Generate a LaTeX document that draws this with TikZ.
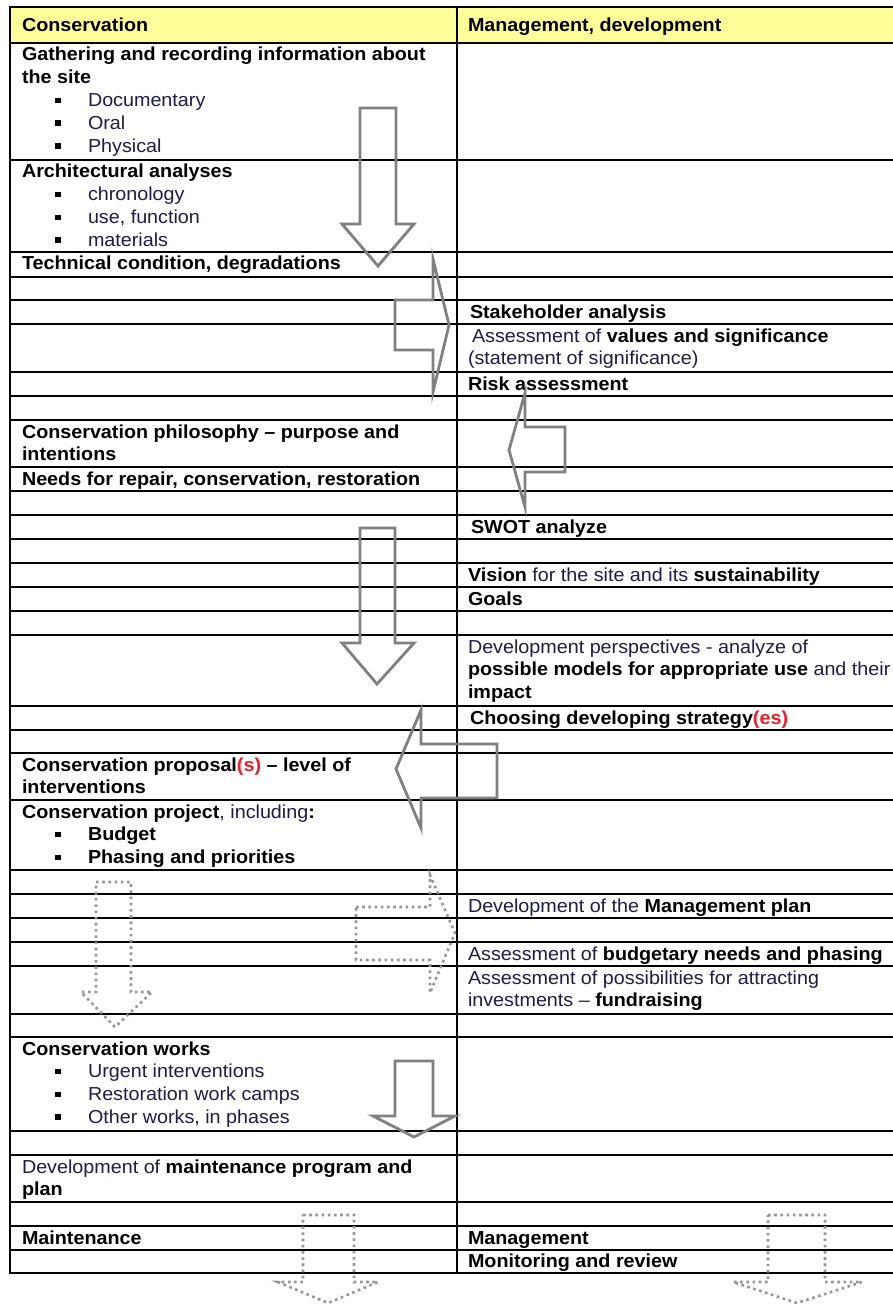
\documentclass[tikz,border=0pt]{standalone}
\usepackage{fontspec}
\setmainfont{Liberation Sans}[FakeStretch=1.05]
\definecolor{regc}{RGB}{30,28,72}
\definecolor{redc}{RGB}{232,32,40}
\definecolor{hdr}{RGB}{255,255,153}
\definecolor{arrc}{RGB}{128,128,128}
\definecolor{dotc}{RGB}{150,150,150}
\newcommand{\rgt}[1]{{\mdseries\color{regc}#1}}
\newcommand{\redt}[1]{{\color{redc}#1}}
\begin{document}
\begin{tikzpicture}[x=1pt,y=-1pt,
  txt/.style={anchor=base west, inner sep=0pt, outer sep=0pt, font=\fontsize{18.8}{22.8}\selectfont\bfseries},
  rule/.style={line width=1.8pt, black, line cap=rect},
  blockarrow/.style={draw=arrc, line width=2.8pt, line join=miter},
  dotarrow/.style={draw=dotc, line width=2.6pt, dash pattern=on 2.6pt off 3.6pt}]
\useasboundingbox (0,0) rectangle (893,1305);
\fill[white] (0,0) rectangle (893,1305);
% header
\fill[hdr] (10,7) rectangle (893,43);
% table rules
\foreach \yy in {7,43,160,252,277,300,324,372,396,420,467,491,515,539,563,587,611,635,706,730,753,800,870,894,918,942,966,1014,1037,1131,1155,1202,1226,1250,1273}
  \draw[rule] (10,\yy) -- (893,\yy);
\draw[rule] (10,7) -- (10,1273);
\draw[rule] (457,7) -- (457,1273);
% bullets
\foreach \bb in {106.6,129.4,152.2,200.8,223.6,246.4,840.8,863.6,1077.8,1100.6,1123.4}
  \fill[black] (55,\bb-9) rectangle (60.5,\bb-3.5);
% header texts
\node[txt] (h1) at (22,31.5) {Conservation};
\node[txt] (h2) at (468,31.5) {Management, development};
% left column
\node[txt] (l1) at (22,61) {Gathering and recording information about};
\node[txt] (l2) at (22,83.8) {the site};
\node[txt] (l3) at (88,106.6) {\rgt{Documentary}};
\node[txt] (l4) at (88,129.4) {\rgt{Oral}};
\node[txt] (l5) at (88,152.2) {\rgt{Physical}};
\node[txt] (l6) at (22,178) {Architectural analyses};
\node[txt] (l7) at (88,200.8) {\rgt{chronology}};
\node[txt] (l8) at (88,223.6) {\rgt{use, function}};
\node[txt] (l9) at (88,246.4) {\rgt{materials}};
\node[txt] (l10) at (22,270) {Technical condition, degradations};
\node[txt] (l11) at (22,438) {Conservation philosophy -- purpose and};
\node[txt] (l12) at (22,460.8) {intentions};
\node[txt] (l13) at (22,485) {Needs for repair, conservation, restoration};
\node[txt] (l14) at (22,771) {Conservation proposal\redt{(s)} -- level of};
\node[txt] (l15) at (22,793.8) {interventions};
\node[txt] (l16) at (22,818) {Conservation project\rgt{, including}:};
\node[txt] (l17) at (88,840.8) {Budget};
\node[txt] (l18) at (88,863.6) {Phasing and priorities};
\node[txt] (l19) at (22,1055) {Conservation works};
\node[txt] (l20) at (88,1077.8) {\rgt{Urgent interventions}};
\node[txt] (l21) at (88,1100.6) {\rgt{Restoration work camps}};
\node[txt] (l22) at (88,1123.4) {\rgt{Other works, in phases}};
\node[txt] (l23) at (22,1173) {\rgt{Development of}\ maintenance program and};
\node[txt] (l24) at (22,1195.8) {plan};
\node[txt] (l25) at (22,1244) {Maintenance};
% right column
\node[txt] (r1) at (470,318) {Stakeholder analysis};
\node[txt] (r2) at (472,342) {\rgt{Assessment of}\ values and significance};
\node[txt] (r3) at (468,364.8) {\rgt{(statement of significance)}};
\node[txt] (r4) at (468,390) {Risk assessment};
\node[txt] (r5) at (471,533) {SWOT analyze};
\node[txt] (r6) at (468,581) {Vision\ \rgt{for the site and its}\ sustainability};
\node[txt] (r7) at (468,605) {Goals};
\node[txt] (r8) at (468,653) {\rgt{Development perspectives - analyze of}};
\node[txt] (r9) at (468,675.8) {possible models for appropriate use\ \rgt{and their}};
\node[txt] (r10) at (468,698.6) {impact};
\node[txt] (r11) at (470,724) {Choosing developing strategy\redt{(es)}};
\node[txt] (r12) at (468,912) {\rgt{Development of the}\ Management plan};
\node[txt] (r13) at (468,960) {\rgt{Assessment of}\ budgetary needs and phasing};
\node[txt] (r14) at (468,984) {\rgt{Assessment of possibilities for attracting}};
\node[txt] (r15) at (468,1006.8) {\rgt{investments --}\ fundraising};
\node[txt] (r16) at (468,1244) {Management};
\node[txt] (r17) at (468,1267) {Monitoring and review};
% solid block arrows
\draw[blockarrow] (360,108) -- (396,108) -- (396,224) -- (414,224) -- (378,266) -- (342,224) -- (360,224) -- cycle;
\draw[blockarrow] (395,300) -- (433,300) -- (433,259) -- (449,325) -- (433,392) -- (433,350) -- (395,350) -- cycle;
\draw[blockarrow] (565,427) -- (525,427) -- (525,393) -- (509,450) -- (525,507) -- (525,472) -- (565,472) -- cycle;
\draw[blockarrow] (360,528) -- (395,528) -- (395,643) -- (414,643) -- (377,684) -- (342,643) -- (360,643) -- cycle;
\draw[blockarrow] (497,744) -- (421,744) -- (421,710) -- (396,769) -- (421,828) -- (421,798) -- (497,798) -- cycle;
\draw[blockarrow] (395,1061) -- (433,1061) -- (433,1116) -- (455,1116) -- (414,1137) -- (373,1116) -- (395,1116) -- cycle;
% dotted block arrows
\draw[dotarrow] (96,882) -- (131,882) -- (131,992) -- (152,992) -- (115,1027) -- (81,992) -- (96,992) -- cycle;
\draw[dotarrow] (356,907) -- (430,907) -- (430,875) -- (455,933) -- (430,993) -- (430,960) -- (356,960) -- cycle;
\draw[dotarrow] (303,1215) -- (354,1215) -- (354,1282) -- (378,1282) -- (328,1303) -- (278,1282) -- (303,1282) -- cycle;
\draw[dotarrow] (768,1215) -- (825,1215) -- (825,1282) -- (862,1282) -- (797,1303) -- (733,1282) -- (768,1282) -- cycle;
\end{tikzpicture}
\end{document}
